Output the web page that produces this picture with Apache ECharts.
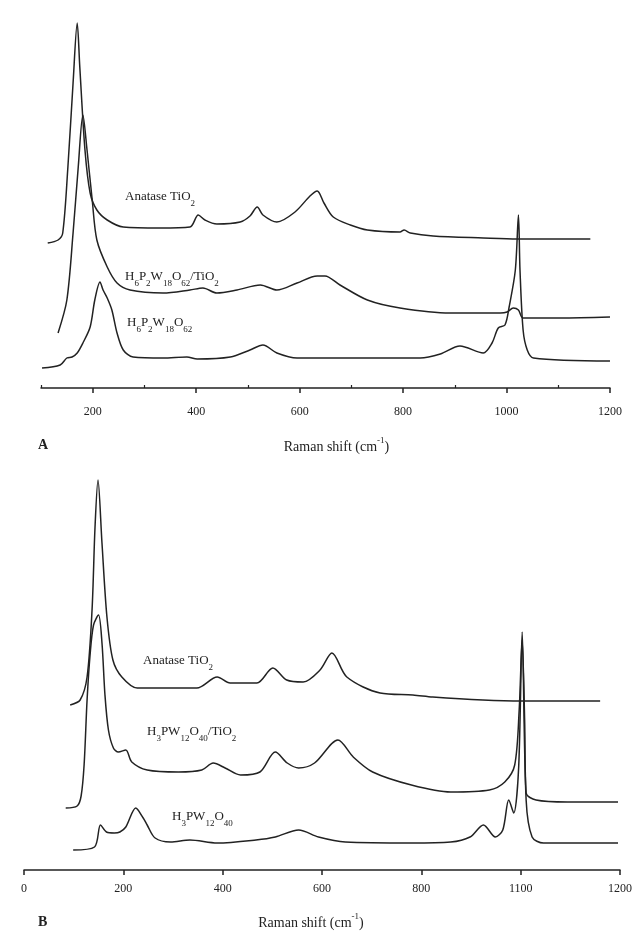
<!DOCTYPE html>
<html>
<head>
<meta charset="utf-8">
<script src="https://cdn.jsdelivr.net/npm/echarts@6/dist/echarts.min.js"></script>
<style>
  html, body { margin: 0; padding: 0; background: #fff; }
  #chart { width: 643px; height: 941px; }
</style>
</head>
<body>
<div id="chart"></div>
<script>
// Raman spectra, [shift cm-1, intensity a.u.]
var anataseA = [[113,145],[133,148],[142,155],[152,221],[162,305],[170,365],[175,321],[185,238],[195,195],[208,178],[228,168],[259,161],[330,160],[388,161],[404,173],[417,168],[440,164],[485,166],[504,172],[518,181],[529,173],[556,166],[591,176],[620,192],[634,197],[647,185],[665,171],[698,163],[731,158],[794,156],[802,158],[814,155],[858,152],[955,150],[1021,149],[1162,149]];
var hpwTiA = [[133,55],[150,88],[162,155],[172,221],[181,273],[189,238],[199,188],[208,148],[228,121],[247,105],[272,98],[336,95],[388,98],[413,100],[440,95],[479,98],[524,103],[556,98],[595,105],[634,112],[649,112],[678,103],[731,88],[794,80],[891,75],[988,75],[1001,76],[1013,80],[1023,78],[1032,70],[1104,70],[1200,71]];
var hpwA = [[102,20],[137,23],[150,30],[160,31],[170,35],[181,45],[195,61],[204,88],[214,106],[220,98],[228,90],[237,78],[247,55],[259,38],[278,31],[336,30],[382,31],[402,29],[466,31],[504,38],[529,43],[556,35],[595,30],[756,30],[833,30],[872,34],[910,42],[955,35],[972,45],[984,60],[997,63],[1005,81],[1017,118],[1023,173],[1026,118],[1032,58],[1040,38],[1052,30],[1200,27]];

var anataseB = [[93,165],[113,170],[127,193],[137,260],[143,343],[149,390],[157,327],[167,253],[179,210],[197,193],[228,182],[348,182],[389,193],[415,187],[469,187],[501,202],[529,190],[562,188],[596,200],[620,217],[650,193],[717,177],[783,175],[823,173],[924,170],[1003,169],[1160,169]];
var hpwTiB = [[84,62],[107,64],[115,74],[121,105],[127,170],[133,215],[140,245],[150,255],[157,227],[163,175],[170,140],[180,122],[190,118],[205,120],[217,108],[248,100],[311,98],[358,100],[381,107],[405,102],[436,95],[475,98],[506,118],[530,107],[553,102],[585,107],[632,130],[663,113],[702,98],[780,85],[859,78],[937,80],[968,88],[988,105],[997,160],[1003,230],[1008,150],[1011,77],[1031,70],[1094,68],[1196,68]];
var hpwB = [[99,20],[142,23],[154,45],[166,38],[182,37],[193,38],[205,43],[225,62],[240,52],[248,45],[264,32],[295,28],[334,30],[389,27],[467,30],[506,33],[553,40],[593,33],[647,28],[780,27],[859,28],[898,33],[925,45],[949,33],[964,40],[976,70],[986,57],[996,103],[1003,238],[1011,70],[1023,33],[1046,27],[1196,27]];

var majorTicksA = [200, 400, 600, 800, 1000, 1200];
var minorTicksA = [100, 300, 500, 700, 900, 1100];
var ticksB = [0, 200, 400, 600, 800, 1000, 1200];
var tickLabelsB = ['0', '200', '400', '600', '800', '1100', '1200'];

var chart = echarts.init(document.getElementById('chart'));
var serif = 'Liberation Serif';
var ink = '#222';

function lineSeries(data, xi, yi) {
    return {
        type: 'line',
        xAxisIndex: xi,
        yAxisIndex: yi,
        data: data,
        smooth: 0.3,
        showSymbol: false,
        silent: true,
        lineStyle: { color: ink, width: 1.5 }
    };
}

function label(x, y, txt) {
    return {
        type: 'text', left: x, top: y,
        style: {
            text: txt, fontFamily: serif, fontSize: 13, lineHeight: 22, fill: ink,
            rich: {
                sub: { fontFamily: serif, fontSize: 9, lineHeight: 14, verticalAlign: 'bottom', fill: ink }
            }
        }
    };
}

var axisName = {
    fontFamily: serif, fontSize: 14, color: ink, lineHeight: 22,
    padding: [0, 0, 0, 22],
    rich: { sup: { fontFamily: serif, fontSize: 9, lineHeight: 9, verticalAlign: 'top', color: ink } }
};

var option = {
    animation: false,
    backgroundColor: '#fff',
    grid: [
        { left: 41, right: 33, top: 10, height: 378 },
        { left: 24, right: 23, top: 470, height: 400 }
    ],
    xAxis: [
        {
            gridIndex: 0, type: 'value', min: 100, max: 1200,
            splitLine: { show: false },
            axisLine: { lineStyle: { color: ink, width: 1.5 } },
            axisTick: { customValues: majorTicksA, length: 5, lineStyle: { color: ink, width: 1.5 } },
            axisLabel: {
                customValues: majorTicksA, margin: 18, fontFamily: serif, fontSize: 12, color: ink,
                formatter: function (v) { return String(v); }
            },
            name: 'Raman shift (cm{sup|-1})', nameLocation: 'middle', nameGap: 48,
            nameTextStyle: axisName
        },
        {
            gridIndex: 0, type: 'value', min: 100, max: 1200, position: 'bottom', offset: 0,
            splitLine: { show: false },
            axisLine: { show: false },
            axisTick: { customValues: minorTicksA, inside: true, length: 3, lineStyle: { color: ink, width: 1.2 } },
            axisLabel: { show: false }
        },
        {
            gridIndex: 1, type: 'value', min: 0, max: 1200, interval: 200,
            splitLine: { show: false },
            axisLine: { lineStyle: { color: ink, width: 1.5 } },
            axisTick: { length: 5, lineStyle: { color: ink, width: 1.5 } },
            axisLabel: {
                margin: 13, fontFamily: serif, fontSize: 12, color: ink,
                formatter: function (v) { return tickLabelsB[ticksB.indexOf(v)] || ''; }
            },
            name: 'Raman shift (cm{sup|-1})', nameLocation: 'middle', nameGap: 42,
            nameTextStyle: Object.assign({}, axisName, { padding: [0, 22, 0, 0] })
        }
    ],
    yAxis: [
        { gridIndex: 0, type: 'value', min: 0, max: 378, show: false },
        { gridIndex: 1, type: 'value', min: 0, max: 400, show: false }
    ],
    graphic: [
        label(125, 186, 'Anatase TiO{sub|2}'),
        label(125, 266, 'H{sub|6}P{sub|2}W{sub|18}O{sub|62}/TiO{sub|2}'),
        label(127, 312, 'H{sub|6}P{sub|2}W{sub|18}O{sub|62}'),
        label(143, 650, 'Anatase TiO{sub|2}'),
        label(147, 721, 'H{sub|3}PW{sub|12}O{sub|40}/TiO{sub|2}'),
        label(172, 806, 'H{sub|3}PW{sub|12}O{sub|40}'),
        { type: 'text', left: 38, top: 438, style: { text: 'A', fontFamily: serif, fontSize: 14, fontWeight: 'bold', fill: ink } },
        { type: 'text', left: 38, top: 915, style: { text: 'B', fontFamily: serif, fontSize: 14, fontWeight: 'bold', fill: ink } }
    ],
    series: [
        lineSeries(anataseA, 0, 0),
        lineSeries(hpwTiA, 0, 0),
        lineSeries(hpwA, 0, 0),
        lineSeries(anataseB, 2, 1),
        lineSeries(hpwTiB, 2, 1),
        lineSeries(hpwB, 2, 1)
    ]
};

chart.setOption(option);
</script>
</body>
</html>
